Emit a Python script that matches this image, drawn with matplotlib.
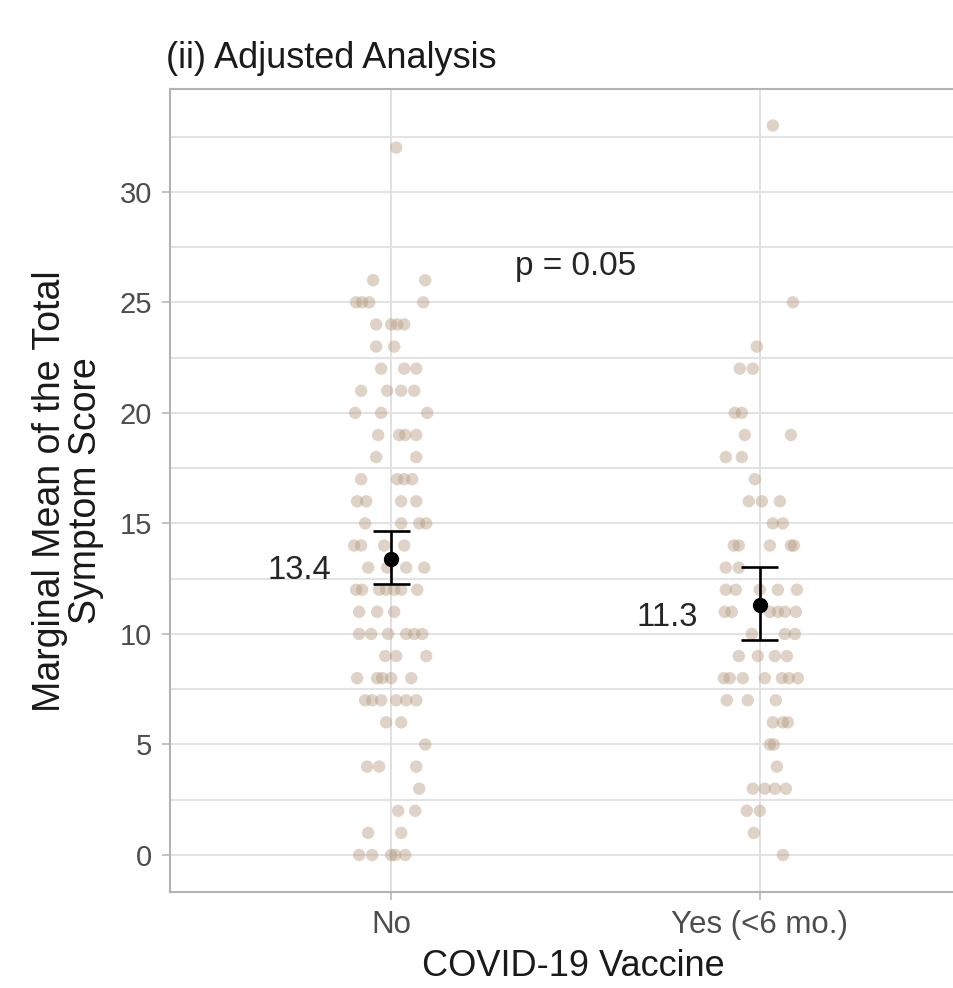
import matplotlib
matplotlib.use("Agg")
import matplotlib.pyplot as plt
import numpy as np

plt.rcParams['font.family'] = ['Liberation Sans', 'DejaVu Sans']

# ---- data -------------------------------------------------------------
groups = ["No", "Yes (<6 mo.)"]
title = "(ii) Adjusted Analysis"
xlabel = "COVID-19 Vaccine"
ylabel = "Marginal Mean of the Total\nSymptom Score"
p_label = "p = 0.05"

# observed total symptom scores with horizontal jitter (in 1/368 category units)
no_rows = {
    32: [5], 26: [-18, 34], 25: [-35, -29, -22, 32], 24: [-15, 0, 6, 13],
    23: [-15, 3], 22: [-10, 13, 25], 21: [-30, -4, 10, 23], 20: [-36, -10, 36],
    19: [-13, 8, 14, 25], 18: [-15, 25], 17: [-30, 6, 13, 21],
    16: [-34, -25, 10, 25], 15: [-26, 10, 28, 35], 14: [-37, -30, -7, 13],
    13: [-23, -4, 15, 33], 12: [-35, -29, -12, -5, 3, 10, 26], 11: [-32, -14, 3],
    10: [-32, -20, -3, 15, 23, 31], 9: [-6, 5, 35], 8: [-34, -14, -9, 0, 20],
    7: [-26, -19, -10, 5, 15, 25], 6: [-5, 10], 5: [34], 4: [-24, -12, 25],
    3: [28], 2: [7, 24], 1: [-23, 10], 0: [-32, -19, 0, 4, 14],
}
yes_rows = {
    33: [13], 25: [33], 23: [-3], 22: [-20, -7], 20: [-25, -18], 19: [-15, 31],
    18: [-34, -18], 17: [-5], 16: [-11, 2, 20], 15: [13, 23],
    14: [-26, -21, 10, 31, 34], 13: [-34, -21], 12: [-34, -24, 0, 18, 37],
    11: [-35, -28, 10, 18, 25, 36], 10: [-8, 25, 35], 9: [-21, -2, 15, 27],
    8: [-36, -30, -17, 5, 22, 29, 38], 7: [-33, -12, 16], 6: [13, 23, 28],
    5: [10, 14], 4: [17], 3: [-7, 5, 15, 26], 2: [-13, 0], 1: [-6], 0: [23],
}
means = [13.4, 11.3]
ci_low = [12.25, 9.73]
ci_high = [14.66, 13.05]
mean_labels = ["13.4", "11.3"]

# ---- figure -----------------------------------------------------------
W, H = 954, 988
fig = plt.figure(figsize=(W / 100, H / 100), dpi=100)
ax = fig.add_axes([170 / W, 1 - 891.5 / H, 811 / W, 802.5 / H])
ax.set_xlim(0.4, 2.6)
ax.set_ylim(-1.65, 34.65)

grid_c = '#e3e3e3'
ax.set_yticks(np.arange(0, 31, 5))
ax.set_yticks(np.arange(2.5, 34, 5), minor=True)
ax.set_xticks([1, 2])
ax.set_xticklabels(groups)
ax.grid(True, which='both', axis='y', color=grid_c, lw=1.5, zorder=0)
ax.grid(True, which='major', axis='x', color='#dedede', lw=1.3, zorder=0)
ax.set_axisbelow(True)
ax.tick_params(which='minor', length=0)
ax.tick_params(which='major', length=6, width=1.1, color='#b3b3b3',
               labelsize=21, labelcolor='#4d4d4d', pad=7)
ax.tick_params(axis='x', labelsize=22.5)
for s in ax.spines.values():
    s.set_color('#b3b3b3')
    s.set_linewidth(1.5)

pt_color = '#b29879'
for gi, rows in enumerate([no_rows, yes_rows]):
    xs, ys = [], []
    for val, offs in rows.items():
        for o in offs:
            xs.append(gi + 1 + o / 368)
            ys.append(val)
    ax.scatter(xs, ys, s=80, color=pt_color, alpha=0.42, edgecolors='none', zorder=2)

for gi in range(2):
    x = gi + 1
    ax.vlines(x, ci_low[gi], ci_high[gi], color='black', lw=1.9, zorder=3)
    ax.hlines([ci_low[gi], ci_high[gi]], x - 0.05, x + 0.05, color='black', lw=1.9, zorder=3)
    ax.plot([x], [means[gi]], 'o', color='black', ms=10, zorder=4)
    ax.text(x - 0.25, means[gi] - 0.55, mean_labels[gi], ha='center', va='center',
            fontsize=23.5, color='#262626')

ax.text(1.5, 26.6, p_label, ha='center', va='center', fontsize=24, color='#262626')

fig.text(166 / W, 1 - 68 / H, title, ha='left', va='baseline', fontsize=26, color='#1a1a1a')
fig.text(573 / W, 1 - 976 / H, xlabel, ha='center', va='baseline', fontsize=26, color='#1a1a1a')
fig.text(68 / W, 1 - 491 / H, ylabel, ha='center', va='center', rotation=90,
         multialignment='center', fontsize=27, color='#1a1a1a', linespacing=1.0)

fig.savefig("out.png", dpi=100)
